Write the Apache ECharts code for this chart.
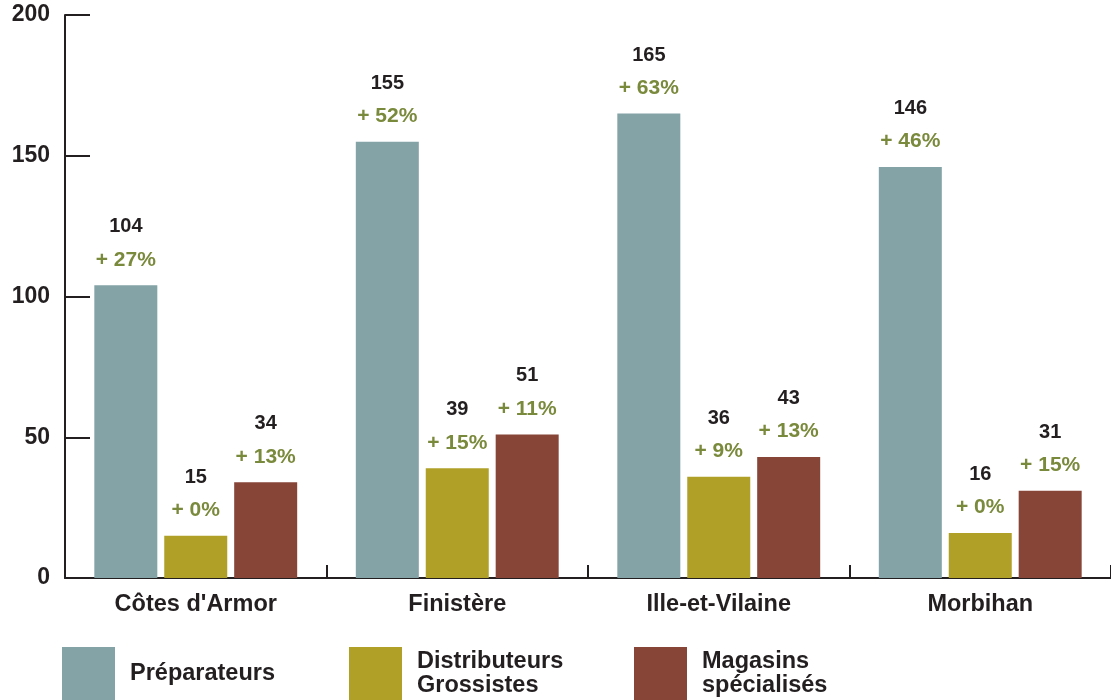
<!DOCTYPE html>
<html><head><meta charset="utf-8">
<script src="https://cdn.jsdelivr.net/npm/echarts@6/dist/echarts.min.js"></script>
<style>html,body{margin:0;padding:0;background:#fff}#c{width:1111px;height:700px}</style>
</head><body><div id="c"></div>
<script>
const categories = ["Côtes d'Armor", "Finistère", "Ille-et-Vilaine", "Morbihan"];
const seriesNames = ["Préparateurs", "Distributeurs\nGrossistes", "Magasins\nspécialisés"];
const preparateurs = [104, 155, 165, 146];
const preparateursPct = [27, 52, 63, 46];
const distributeurs = [15, 39, 36, 16];
const distributeursPct = [0, 15, 9, 0];
const magasins = [34, 51, 43, 31];
const magasinsPct = [13, 11, 13, 15];
const yTicks = [0, 50, 100, 150, 200];

const colors = ['#84a3a7', '#b0a028', '#874538'];
const FONT = '"Liberation Sans", Arial, sans-serif';
const chart = echarts.init(document.getElementById('c'));

function mk(name, vals, pcts, color) {
  return {
    name: name, type: 'bar', data: vals, barWidth: 63, barGap: '11%',
    itemStyle: { color: color },
    label: {
      show: true, position: 'top', distance: 9,
      formatter: p => '{v|' + p.value + '}\n{p|+ ' + pcts[p.dataIndex] + '%}',
      rich: {
        v: { fontFamily: FONT, fontWeight: 'bold', fontSize: 20, color: '#231f20', lineHeight: 33 },
        p: { fontFamily: FONT, fontWeight: 'bold', fontSize: 21, color: '#7a8a3c', lineHeight: 33 }
      }
    }
  };
}

function leg(name, left) {
  return {
    data: [name], left: left, top: 642, orient: 'horizontal',
    itemWidth: 53, itemHeight: 53, icon: 'rect', selectedMode: false,
    textStyle: { fontFamily: FONT, fontWeight: 'bold', fontSize: 23.5, color: '#231f20', padding: [0, 0, 0, 10], lineHeight: 24 }
  };
}

chart.setOption({
  animation: false,
  color: colors,
  textStyle: { fontFamily: FONT },
  grid: { left: 65, right: 0, top: 15, bottom: 122 },
  legend: [leg(seriesNames[0], 57), leg(seriesNames[1], 344), leg(seriesNames[2], 629)],
  xAxis: {
    type: 'category', data: categories,
    axisLine: { lineStyle: { color: '#231f20', width: 2 } },
    axisTick: { show: true, inside: true, length: 13, lineStyle: { color: '#231f20', width: 2 } },
    axisLabel: { fontFamily: FONT, fontWeight: 'bold', fontSize: 23.5, color: '#231f20', margin: 15 }
  },
  yAxis: {
    type: 'value', min: 0, max: 200, interval: 50,
    axisLine: { show: true, lineStyle: { color: '#231f20', width: 2 } },
    axisTick: { show: true, inside: true, length: 25, lineStyle: { color: '#231f20', width: 2 } },
    splitLine: { show: false },
    axisLabel: { fontFamily: FONT, fontWeight: 'bold', fontSize: 23, color: '#231f20', margin: 15,
      formatter: v => yTicks.includes(v) ? String(v) : '' }
  },
  series: [
    mk(seriesNames[0], preparateurs, preparateursPct, colors[0]),
    mk(seriesNames[1], distributeurs, distributeursPct, colors[1]),
    mk(seriesNames[2], magasins, magasinsPct, colors[2])
  ]
});
</script></body></html>
